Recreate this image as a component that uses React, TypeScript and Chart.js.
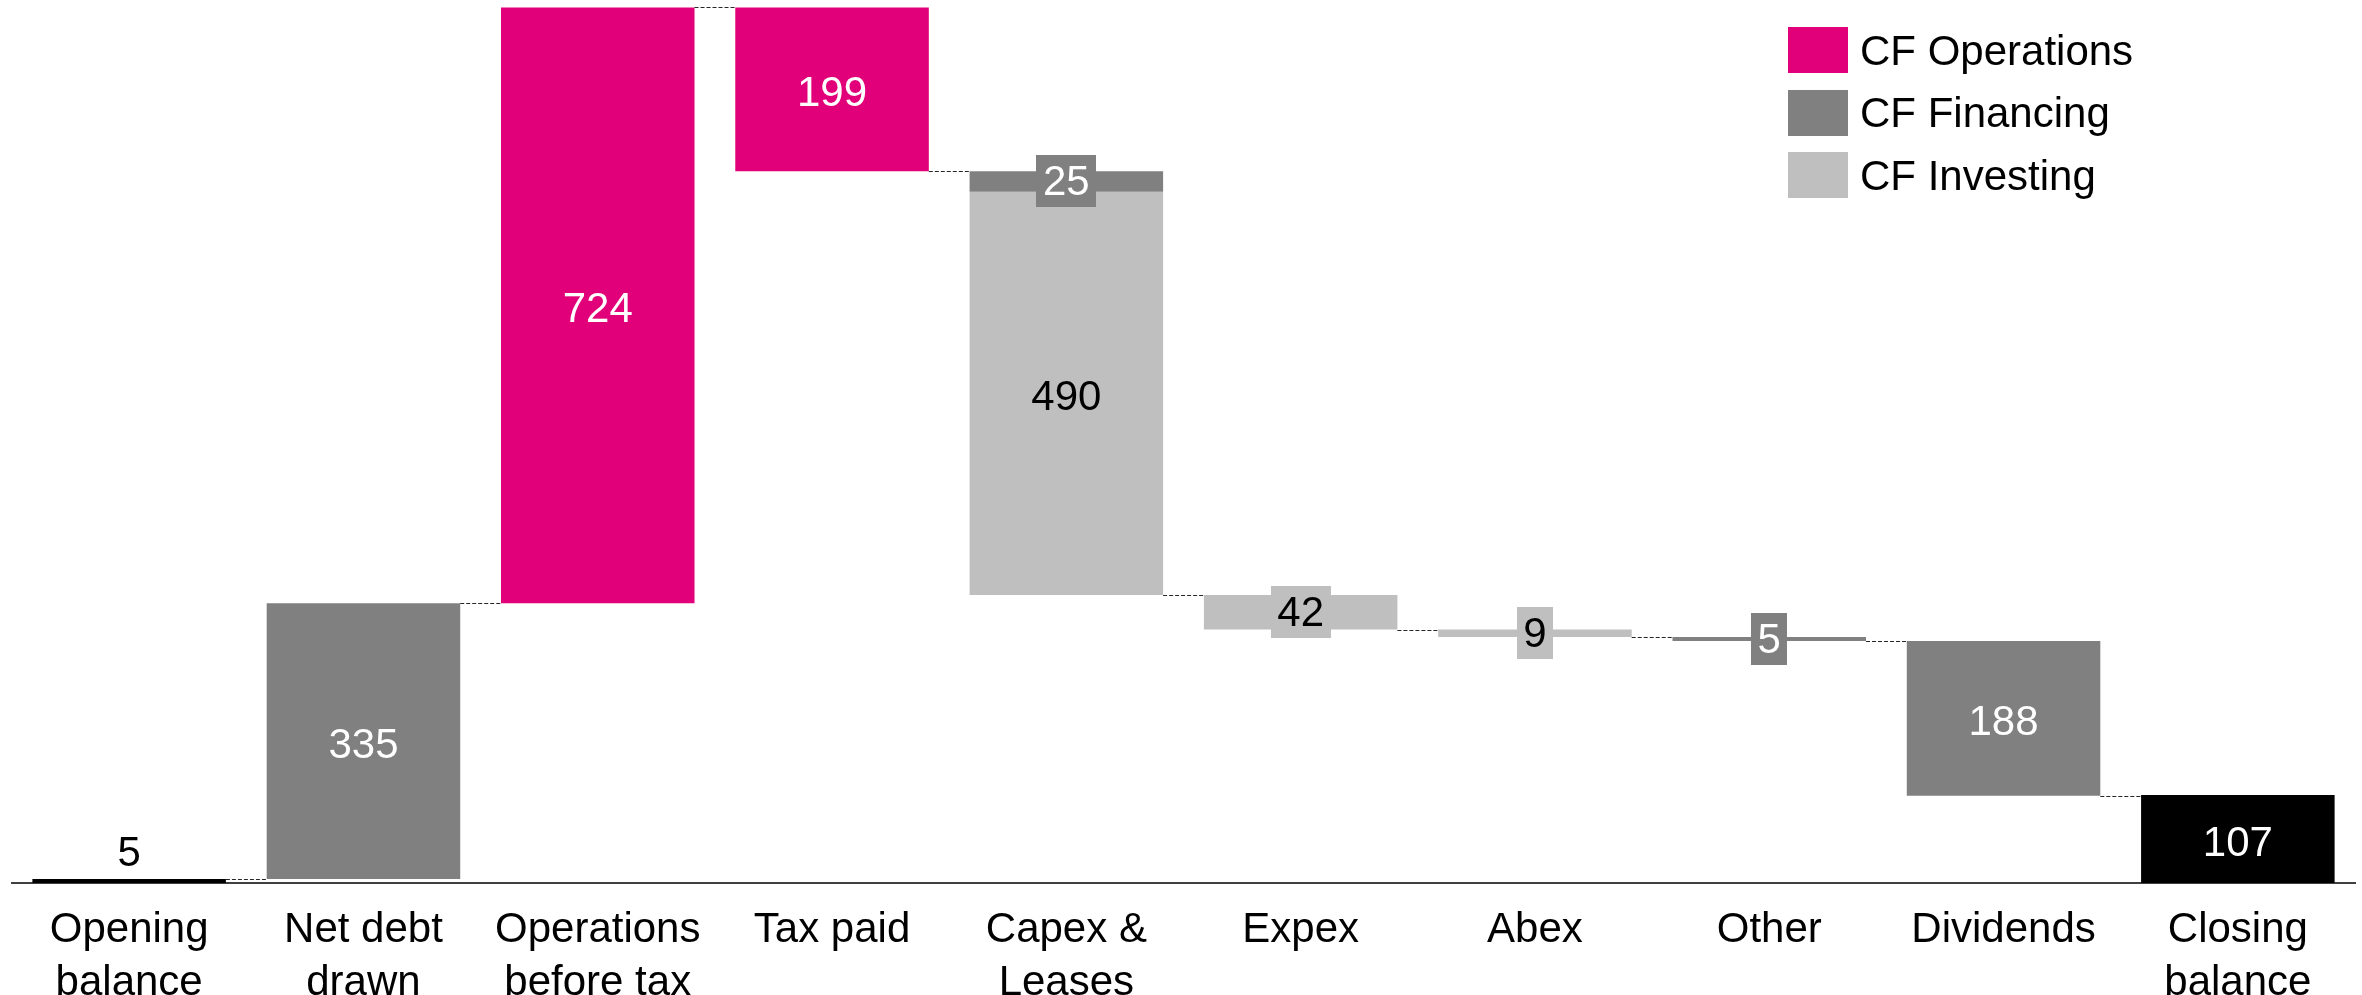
import React, { useEffect, useRef } from "react";
import { Chart, registerables } from "chart.js";
Chart.register(...registerables);

const categories: string[][] = [
  ["Opening", "balance"],
  ["Net debt", "drawn"],
  ["Operations", "before tax"],
  ["Tax paid"],
  ["Capex &", "Leases"],
  ["Expex"],
  ["Abex"],
  ["Other"],
  ["Dividends"],
  ["Closing", "balance"],
];
const balanceValues = [5, null, null, null, null, null, null, null, null, 107];
const operationsValues = [null, null, 724, -199, null, null, null, null, null, null];
const financingValues = [null, 335, null, null, -25, null, null, -5, -188, null];
const investingValues = [null, null, null, null, -490, -42, -9, null, null, null];
const legendLabels = ["CF Operations", "CF Financing", "CF Investing"];

const COLORS = { bal: "#000000", ops: "#E2007A", fin: "#808080", inv: "#BFBFBF" };
const TEXT_COLORS = { bal: "#FFFFFF", ops: "#FFFFFF", fin: "#FFFFFF", inv: "#000000" };
const FONT_FAMILY = "'Liberation Sans', Arial, sans-serif";
const FONT = `42px ${FONT_FAMILY}`;

type Key = "bal" | "ops" | "fin" | "inv";
const series: { key: Key; values: (number | null)[] }[] = [
  { key: "bal", values: balanceValues },
  { key: "ops", values: operationsValues },
  { key: "fin", values: financingValues },
  { key: "inv", values: investingValues },
];

function buildRanges() {
  const ranges: Record<Key, ([number, number] | null)[]> = { bal: [], ops: [], fin: [], inv: [] };
  const levels: number[] = [];
  let running = 0;
  for (let i = 0; i < categories.length; i++) {
    for (const s of series) {
      const v = s.values[i];
      if (v === null || v === undefined) {
        ranges[s.key].push(null);
        continue;
      }
      if (s.key === "bal") {
        ranges.bal.push([0, v]);
        running = v;
      } else {
        ranges[s.key].push([running, running + v]);
        running += v;
      }
    }
    levels.push(running);
  }
  return { ranges, levels };
}

export default function App() {
  const ref = useRef<HTMLCanvasElement | null>(null);
  useEffect(() => {
    if (!ref.current) return;
    const { ranges, levels } = buildRanges();

    const connectorPlugin = {
      id: "connectors",
      afterDatasetsDraw(chart: any) {
        const ctx = chart.ctx;
        const yScale = chart.scales.y;
        const metas = chart.getSortedVisibleDatasetMetas();
        const edge = (i: number) => {
          let left = Infinity, right = -Infinity;
          metas.forEach((m: any) => {
            const el = m.data[i];
            const raw = chart.data.datasets[m.index].data[i];
            if (!el || raw === null || raw === undefined) return;
            left = Math.min(left, el.x - el.width / 2);
            right = Math.max(right, el.x + el.width / 2);
          });
          return { left, right };
        };
        ctx.save();
        ctx.strokeStyle = "#262626";
        ctx.lineWidth = 1;
        ctx.setLineDash([4, 2]);
        for (let i = 0; i < categories.length - 1; i++) {
          const a = edge(i);
          const b = edge(i + 1);
          const y = Math.round(yScale.getPixelForValue(levels[i])) + 0.5;
          ctx.beginPath();
          ctx.moveTo(a.right, y);
          ctx.lineTo(b.left, y);
          ctx.stroke();
        }
        ctx.restore();
      },
    };

    const labelPlugin = {
      id: "valueLabels",
      afterDatasetsDraw(chart: any) {
        const ctx = chart.ctx;
        ctx.save();
        ctx.font = FONT;
        ctx.textAlign = "center";
        chart.getSortedVisibleDatasetMetas().forEach((m: any) => {
          const key = series[m.index].key;
          m.data.forEach((el: any, i: number) => {
            const v = series[m.index].values[i];
            if (v === null || v === undefined) return;
            const text = String(Math.abs(v));
            const top = Math.min(el.y, el.base);
            const bottom = Math.max(el.y, el.base);
            const h = bottom - top;
            const cy = (top + bottom) / 2;
            if (key === "bal" && h < 40) {
              ctx.fillStyle = "#000000";
              ctx.textBaseline = "alphabetic";
              ctx.fillText(text, el.x, top - 13);
              return;
            }
            if (h < 52) {
              const w = ctx.measureText(text).width + 13;
              ctx.fillStyle = COLORS[key];
              ctx.fillRect(Math.round(el.x - w / 2), Math.round(cy - 26), Math.round(w), 52);
              ctx.fillStyle = TEXT_COLORS[key];
              ctx.textBaseline = "middle";
              ctx.fillText(text, el.x, cy + 2);
              return;
            }
            ctx.fillStyle = TEXT_COLORS[key];
            ctx.textBaseline = "middle";
            ctx.fillText(text, el.x, cy + 5);
          });
        });
        ctx.restore();
      },
    };

    const legendPlugin = {
      id: "customLegend",
      afterDraw(chart: any) {
        const ctx = chart.ctx;
        const cols = [COLORS.ops, COLORS.fin, COLORS.inv];
        ctx.save();
        ctx.font = FONT;
        ctx.textAlign = "left";
        ctx.textBaseline = "middle";
        legendLabels.forEach((label, i) => {
          const cy = 50 + i * 62.5;
          ctx.fillStyle = cols[i];
          ctx.fillRect(1788, Math.round(cy - 23), 60, 46);
          ctx.fillStyle = "#000000";
          ctx.fillText(label, 1860, cy + 3);
        });
        ctx.restore();
      },
    };

    const chart = new Chart(ref.current, {
      type: "bar",
      data: {
        labels: categories,
        datasets: series.map((s) => ({
          label: s.key,
          data: ranges[s.key] as any,
          backgroundColor: COLORS[s.key],
          borderWidth: 0,
          grouped: false,
          categoryPercentage: 1,
          barPercentage: 0.826,
        })),
      },
      options: {
        animation: false,
        responsive: false,
        devicePixelRatio: 1,
        layout: { padding: { left: 12, right: 7, top: 0, bottom: 0 } },
        plugins: { legend: { display: false }, tooltip: { enabled: false } },
        scales: {
          x: {
            grid: { display: false },
            border: { display: true, color: "#404040", width: 2 },
            ticks: {
              color: "#000000",
              font: { family: FONT_FAMILY, size: 42, lineHeight: 1.26 },
              padding: 13,
              maxRotation: 0,
              autoSkip: false,
            },
            afterFit(scale: any) {
              scale.height = 112;
            },
          },
          y: { display: false, min: 0, max: 1073 },
        },
      },
      plugins: [connectorPlugin, labelPlugin, legendPlugin],
    });
    return () => chart.destroy();
  }, []);

  return (
    <div style={{ position: "absolute", left: 0, top: 0, width: 2362, height: 995, background: "#fff" }}>
      <canvas ref={ref} width={2362} height={995} />
    </div>
  );
}
